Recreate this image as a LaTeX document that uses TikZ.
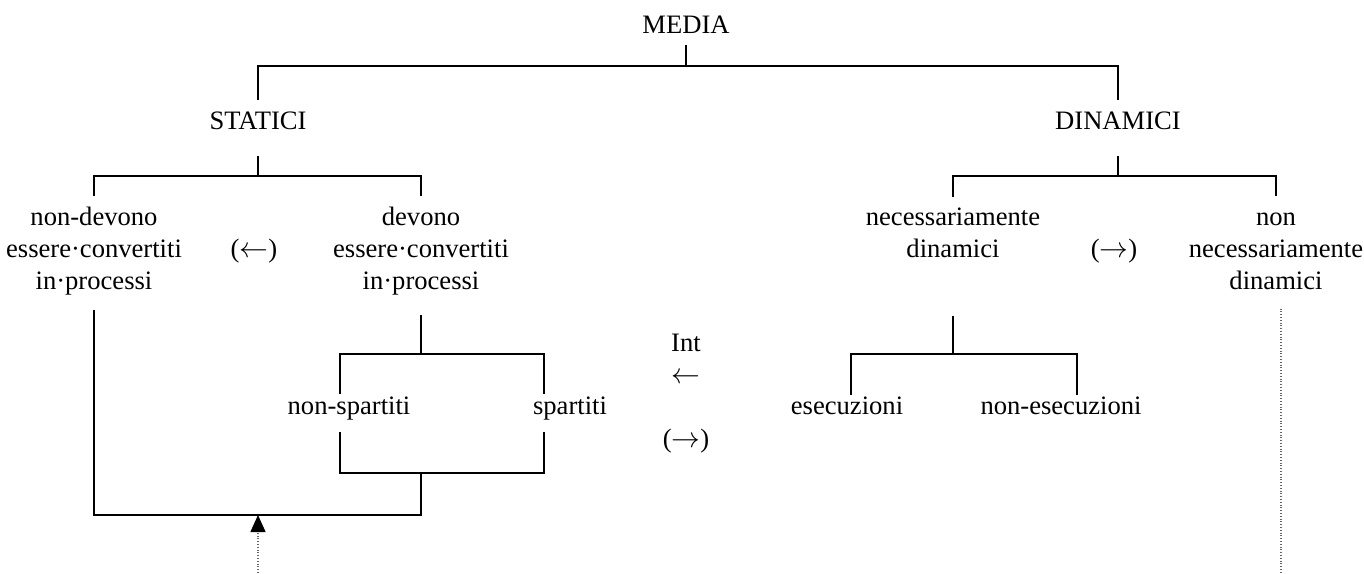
\documentclass[tikz,border=0pt]{standalone}
\usepackage{fontspec}
\setmainfont{Liberation Serif}
\usetikzlibrary{arrows.meta,calc}

\begin{document}
\begin{tikzpicture}[x=0.5pt,y=-0.5pt,
  font=\fontsize{13.3}{16}\selectfont,
  lbl/.style={inner sep=0pt,align=center,anchor=base},
  tree/.style={line width=1pt},
  hint/.style={line width=0.7pt,black!60,dash pattern=on 0.5pt off 0.9pt},
  tip/.style={-{Triangle[length=8.5pt,width=7.5pt,color=black]}}]
  \useasboundingbox (0,0) rectangle (1364,573);
  % labels (base = last line)
  \node[lbl] (media) at (686,33) {MEDIA};
  \node[lbl] (statici) at (258,129) {STATICI};
  \node[lbl] (dinamici) at (1118,129) {DINAMICI};
  \node[lbl] (nondev) at (94,289) {non-devono\\essere·convertiti\\in·processi};
  \node[lbl] (devono) at (421,289) {devono\\essere·convertiti\\in·processi};
  \node[lbl] (necdin) at (953,257) {necessariamente\\dinamici};
  \node[lbl] (nonnec) at (1276,289) {non\\necessariamente\\dinamici};
  \node[lbl] (back) at (254,257) {($\leftarrow$)};
  \node[lbl] (fwd) at (1114,257) {($\rightarrow$)};
  \node[lbl] (int) at (686,351) {Int};
  \node[lbl] (intarr) at (686,383) {$\leftarrow$};
  \node[lbl] (intfwd) at (686,447) {($\rightarrow$)};
  \node[lbl] (nonsp) at (349,414) {non-spartiti};
  \node[lbl] (sp) at (570,414) {spartiti};
  \node[lbl] (esec) at (847,414) {esecuzioni};
  \node[lbl] (nonesec) at (1061,414) {non-esecuzioni};
  % branch points
  \coordinate (m0) at (686,66);
  \coordinate (s0) at (258,176);
  \coordinate (d0) at (1118,176);
  \coordinate (v0) at (421,354);
  \coordinate (vl) at (340,354);
  \coordinate (vr) at (544,354);
  \coordinate (wl) at (340,473);
  \coordinate (wr) at (544,473);
  \coordinate (w0) at (421,473);
  \coordinate (b0) at (258,515);
  \coordinate (e0) at (953,354);
  \coordinate (el) at (851,354);
  \coordinate (er) at (1077,354);
  \coordinate (src) at (258,573);
  \coordinate (nd) at (1281,573);
  % tree
  \draw[tree,shorten <=6pt] (media) -- (m0);
  \draw[tree,shorten <=5.7pt,shorten >=5.7pt] (statici) |- (m0) -| (dinamici);
  \draw[tree,shorten <=13pt] (statici) -- (s0);
  \draw[tree,shorten <=5pt,shorten >=5pt] (nondev) |- (s0) -| (devono);
  \draw[tree,shorten <=13pt] (dinamici) -- (d0);
  \draw[tree,shorten <=5pt,shorten >=8pt] (necdin) |- (d0) -| (nonnec);
  \draw[tree,shorten <=10pt] (devono) -- (v0);
  \draw[tree,shorten <=1pt,shorten >=1pt] (vl |- nonsp.north) -- (vl) -- (vr) -- (vr |- sp.north);
  \draw[tree,shorten <=6pt,shorten >=6pt] (wl |- nonsp.south) -- (wl) -- (wr) -- (wr |- sp.south);
  \draw[tree,shorten >=7.5pt] (w0) |- (b0) -| (nondev);
  \draw[tree,shorten <=29pt] (necdin) -- (e0);
  \draw[tree,shorten <=0.5pt,shorten >=0.5pt] (el |- esec.north) -- (el) -- (er) -- (er |- nonesec.north);
  % dotted hints
  \draw[hint,tip] (src) -- (b0);
  \draw[hint,shorten <=9.5pt] (nd |- nonnec.south) -- (nd);
\end{tikzpicture}
\end{document}
